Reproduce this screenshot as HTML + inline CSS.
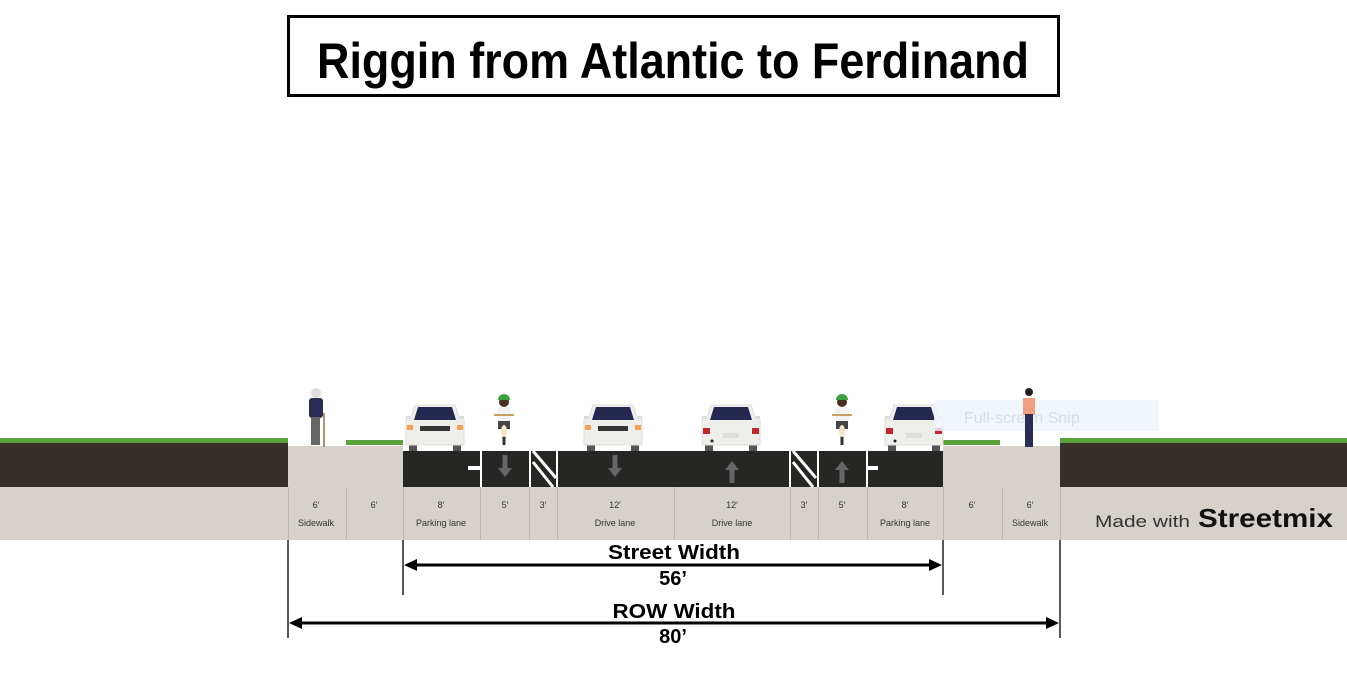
<!DOCTYPE html>
<html><head><meta charset="utf-8"><style>html,body{margin:0;padding:0;background:#fff}svg{display:block}</style></head>
<body>
<svg width="1347" height="678" viewBox="0 0 1347 678" xmlns="http://www.w3.org/2000/svg" font-family="Liberation Sans, sans-serif">
<defs>
<g id="carF">
 <rect x="-26" y="40" width="8" height="8" fill="#555"/><rect x="18" y="40" width="8" height="8" fill="#555"/>
 <path d="M-20 2 L20 2 L24 14 L29 16 L29 42 L-29 42 L-29 16 L-24 14 Z" fill="#eeeeea" stroke="#ddd"/>
 <path d="M-17 4 L17 4 L21 17 L-21 17 Z" fill="#252850"/>
 <rect x="-29" y="13" width="5" height="3" fill="#ddd"/><rect x="24" y="13" width="5" height="3" fill="#ddd"/>
 <rect x="-15" y="23" width="30" height="5" fill="#333"/>
 <rect x="-28" y="22" width="6" height="5" fill="#f5a050"/><rect x="22" y="22" width="6" height="5" fill="#f5a050"/>
</g>
<g id="carR">
 <rect x="-26" y="40" width="8" height="8" fill="#555"/><rect x="18" y="40" width="8" height="8" fill="#555"/>
 <path d="M-20 2 L20 2 L24 14 L29 16 L29 42 L-29 42 L-29 16 L-24 14 Z" fill="#eeeeea" stroke="#ddd"/>
 <path d="M-17 4 L17 4 L21 17 L-21 17 Z" fill="#252850"/>
 <rect x="-29" y="13" width="5" height="3" fill="#ddd"/><rect x="24" y="13" width="5" height="3" fill="#ddd"/>
 <rect x="-28" y="25" width="7" height="6" fill="#c0282e"/><rect x="21" y="25" width="7" height="6" fill="#c0282e"/>
 <rect x="-8" y="30" width="16" height="5" fill="#ddd"/><circle cx="-19" cy="38" r="1.5" fill="#222"/>
</g>
<g id="bike">
 <rect x="-1.5" y="20" width="3" height="30" fill="#333"/>
 <rect x="-7" y="12" width="14" height="14" rx="3" fill="#f2f2f2"/>
 <rect x="-10" y="19" width="20" height="2" fill="#c8a060"/>
 <rect x="-6" y="26" width="12" height="8" fill="#444"/>
 <circle cx="0" cy="7" r="5" fill="#4a3020"/><path d="M-6 5 A6 6 0 0 1 6 5 Z" fill="#3aa040"/>
 <ellipse cx="0" cy="36" rx="3" ry="6" fill="#f3e6c8"/>
</g>
<g id="arrowD"><rect x="-2.5" y="-12" width="5" height="14" fill="#666"/><path d="M-7 1 L7 1 L0 10 Z" fill="#666"/></g>
<g id="arrowU"><rect x="-2.5" y="-2" width="5" height="14" fill="#666"/><path d="M-7 -1 L7 -1 L0 -10 Z" fill="#666"/></g>
</defs>

<rect x="288.5" y="16.5" width="770" height="79" fill="#fff" stroke="#000" stroke-width="3"/>
<text x="673" y="78" text-anchor="middle" font-size="50" font-weight="bold" textLength="712" lengthAdjust="spacingAndGlyphs">Riggin from Atlantic to Ferdinand</text>

<rect x="0" y="442" width="288" height="45" fill="#362e29"/>
<rect x="1060" y="442" width="287" height="45" fill="#362e29"/>
<rect x="0" y="438" width="288" height="5" fill="#5aa33a"/>
<rect x="1060" y="438" width="287" height="5" fill="#5aa33a"/>
<rect x="346" y="440" width="57" height="5" fill="#5aa33a"/>
<rect x="943" y="440" width="57" height="5" fill="#5aa33a"/>
<rect x="0" y="487" width="1347" height="53" fill="#d6d2cb"/>
<rect x="288" y="446" width="115" height="41" fill="#d6d2cb"/>
<rect x="943" y="446" width="117" height="41" fill="#d6d2cb"/>
<rect x="403" y="451" width="540" height="36" fill="#262725"/>
<g fill="#fff">
 <rect x="480" y="451" width="2" height="36"/>
 <rect x="529" y="451" width="2" height="36"/>
 <rect x="556" y="451" width="2" height="36"/>
 <rect x="789" y="451" width="2" height="36"/>
 <rect x="817" y="451" width="2" height="36"/>
 <rect x="866" y="451" width="2" height="36"/>
 <rect x="468" y="466" width="12" height="4"/>
 <rect x="868" y="466" width="10" height="4"/>
</g>
<path d="M533 451 L556 478 M533 462 L553 487" stroke="#fff" stroke-width="3"/>
<path d="M793 451 L816 478 M793 462 L813 487" stroke="#fff" stroke-width="3"/>
<use href="#arrowD" x="505" y="467"/>
<use href="#arrowD" x="615" y="467"/>
<use href="#arrowU" x="732" y="471"/>
<use href="#arrowU" x="842" y="471"/>
<g fill="#bdb8b0">
 <rect x="346" y="487" width="1" height="53"/><rect x="403" y="487" width="1" height="53"/>
 <rect x="480" y="487" width="1" height="53"/><rect x="529" y="487" width="1" height="53"/>
 <rect x="557" y="487" width="1" height="53"/><rect x="674" y="487" width="1" height="53"/>
 <rect x="790" y="487" width="1" height="53"/><rect x="818" y="487" width="1" height="53"/>
 <rect x="867" y="487" width="1" height="53"/><rect x="943" y="487" width="1" height="53"/>
 <rect x="1002" y="487" width="1" height="53"/><rect x="1060" y="487" width="1" height="53"/>
 <rect x="288" y="487" width="1" height="53"/>
</g>
<g font-size="9" fill="#333" text-anchor="middle">
 <text x="316" y="508">6′</text><text x="316" y="526">Sidewalk</text>
 <text x="374" y="508">6′</text>
 <text x="441" y="508">8′</text><text x="441" y="526">Parking lane</text>
 <text x="505" y="508">5′</text>
 <text x="543" y="508">3′</text>
 <text x="615" y="508">12′</text><text x="615" y="526">Drive lane</text>
 <text x="732" y="508">12′</text><text x="732" y="526">Drive lane</text>
 <text x="804" y="508">3′</text>
 <text x="842" y="508">5′</text>
 <text x="905" y="508">8′</text><text x="905" y="526">Parking lane</text>
 <text x="972" y="508">6′</text>
 <text x="1030" y="508">6′</text><text x="1030" y="526">Sidewalk</text>
</g>
<text x="1095" y="527" font-size="17" fill="#333" textLength="95" lengthAdjust="spacingAndGlyphs">Made with</text>
<text x="1198" y="527" font-size="26" font-weight="bold" fill="#111" textLength="135" lengthAdjust="spacingAndGlyphs">Streetmix</text>

<use href="#carF" x="435" y="403"/>
<use href="#carF" x="613" y="403"/>
<use href="#carR" x="731" y="403"/>
<use href="#carR" x="914" y="403"/>
<use href="#bike" x="504" y="395"/>
<use href="#bike" x="842" y="395"/>
<rect x="934" y="400" width="225" height="31" fill="#eef4fb" opacity="0.8"/>
<text x="964" y="423" font-size="16" fill="#d8dde3">Full-screen Snip</text>
<g>
 <circle cx="316" cy="393" r="5" fill="#ddd"/>
 <rect x="309" y="398" width="14" height="20" rx="3" fill="#2a2d55"/>
 <rect x="311" y="417" width="9" height="28" fill="#666"/>
 <rect x="323" y="413" width="2" height="34" fill="#b8906a"/>
</g>
<g>
 <circle cx="1029" cy="392" r="4" fill="#222"/>
 <rect x="1023" y="398" width="12" height="17" fill="#f0a080"/>
 <rect x="1025" y="414" width="8" height="33" fill="#2a2d55"/>
</g>

<g stroke="#000" stroke-width="1.3">
 <line x1="403" y1="540" x2="403" y2="595"/>
 <line x1="943" y1="540" x2="943" y2="595"/>
 <line x1="288" y1="540" x2="288" y2="638"/>
 <line x1="1060" y1="540" x2="1060" y2="638"/>
</g>
<g stroke="#000" stroke-width="3">
 <line x1="414" y1="565" x2="932" y2="565"/>
 <line x1="299" y1="623" x2="1049" y2="623"/>
</g>
<path d="M404 565 L417 559 L417 571 Z M942 565 L929 559 L929 571 Z" fill="#000"/>
<path d="M289 623 L302 617 L302 629 Z M1059 623 L1046 617 L1046 629 Z" fill="#000"/>
<g font-size="20" font-weight="bold" text-anchor="middle">
 <text x="674" y="559" textLength="132" lengthAdjust="spacingAndGlyphs">Street Width</text>
 <text x="673" y="585">56’</text>
 <text x="674" y="618" textLength="123" lengthAdjust="spacingAndGlyphs">ROW Width</text>
 <text x="673" y="643">80’</text>
</g>
</svg>
</body></html>
